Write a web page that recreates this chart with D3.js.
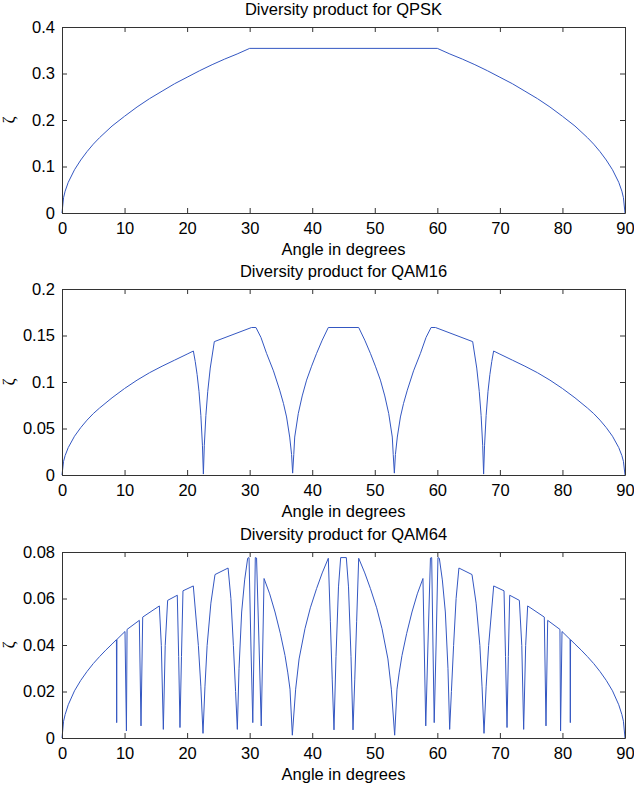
<html>
<head>
    <script src="https://cdnjs.cloudflare.com/ajax/libs/d3/7.8.5/d3.min.js"></script>
    <style>
        body { margin: 0; background: #fff; }
        svg text { font-family: "Liberation Sans", Arial, sans-serif; }
    </style>
</head>
<body>
<script>
    // [angle in degrees, diversity product]
    var qpsk = [[0, 0], [0.25, 0.033], [0.5, 0.047], [1, 0.066], [2, 0.093], [3, 0.114], [4, 0.132], [5, 0.148],
        [6, 0.162], [8, 0.187], [10, 0.208], [12, 0.228], [14, 0.246], [16, 0.262], [18, 0.278], [20, 0.292],
        [22, 0.306], [24, 0.319], [26, 0.331], [28, 0.342], [30, 0.354], [60, 0.354], [62, 0.342], [64, 0.331],
        [66, 0.319], [68, 0.306], [70, 0.292], [72, 0.278], [74, 0.262], [76, 0.246], [78, 0.228], [80, 0.208],
        [82, 0.187], [84, 0.162], [85, 0.148], [86, 0.132], [87, 0.114], [88, 0.093], [89, 0.066], [89.5, 0.047],
        [89.75, 0.033], [90, 0]];

    var qam16 = [[0, 0], [0.25, 0.0147], [0.5, 0.0209], [1, 0.0295], [2, 0.0417], [3, 0.051], [4, 0.059], [5, 0.066],
        [6, 0.072], [8, 0.083], [10, 0.093], [12, 0.102], [14, 0.110], [16, 0.117], [18, 0.1235], [20, 0.130],
        [21.0, 0.1333], [21.3, 0.122], [21.6, 0.108], [21.9, 0.090], [22.2, 0.064], [22.45, 0.032], [22.6, 0.001],
        [22.75, 0.032], [23.0, 0.064], [23.3, 0.090], [23.7, 0.115], [24.35, 0.1434], [30.3, 0.1586], [31.0, 0.1586],
        [31.8, 0.148], [32.7, 0.1308], [33.8, 0.112], [34.8, 0.0912], [35.4, 0.077], [35.9, 0.0624], [36.4, 0.0408],
        [36.7, 0.022], [36.87, 0.002], [37.05, 0.022], [37.2, 0.0408], [37.77, 0.066], [38.4, 0.085], [39.1, 0.102],
        [39.9, 0.117], [40.7, 0.1308], [41.6, 0.145], [42.57, 0.1586], [47.43, 0.1586], [48.4, 0.145], [49.3, 0.1308],
        [50.1, 0.117], [50.9, 0.102], [51.6, 0.085], [52.23, 0.066], [52.8, 0.0408], [52.95, 0.022], [53.13, 0.002],
        [53.3, 0.022], [53.6, 0.0408], [54.1, 0.0624], [54.6, 0.077], [55.2, 0.0912], [56.2, 0.112], [57.3, 0.1308],
        [58.2, 0.148], [59.0, 0.1586], [59.7, 0.1586], [65.65, 0.1434], [66.3, 0.115], [66.7, 0.090], [67.0, 0.064],
        [67.25, 0.032], [67.4, 0.001], [67.55, 0.032], [67.8, 0.064], [68.1, 0.090], [68.4, 0.108], [68.7, 0.122],
        [69.0, 0.1333], [70, 0.130], [72, 0.1235], [74, 0.117], [76, 0.110], [78, 0.102], [80, 0.093], [82, 0.083],
        [84, 0.072], [85, 0.066], [86, 0.059], [87, 0.051], [88, 0.0417], [89, 0.0295], [89.5, 0.0209],
        [89.75, 0.0147], [90, 0]];

    var qam64 = [[0, 0], [0.25, 0.0072], [0.5, 0.0101], [1, 0.0143], [2, 0.0203], [3, 0.0248], [4, 0.0286], [5, 0.032],
        [6, 0.035], [7, 0.0378], [8, 0.0404], [8.7, 0.0423], [8.74, 0.0066], [8.78, 0.0424], [10.07, 0.0458],
        [10.3, 0.003], [10.4, 0.0467], [12.36, 0.0506], [12.63, 0.0052], [12.9, 0.052], [15.56, 0.0568],
        [15.88, 0.0398], [16.2, 0.0037], [16.5, 0.0398], [16.89, 0.0592], [18.43, 0.0614], [18.65, 0.035],
        [18.86, 0.0045], [19.1, 0.035], [19.34, 0.0633], [20.99, 0.0654], [21.8, 0.0398], [22.2, 0.022],
        [22.54, 0.002], [22.85, 0.022], [23.2, 0.0398], [23.8, 0.058], [24.46, 0.0703], [26.55, 0.0731],
        [27.0, 0.060], [27.4, 0.0398], [27.75, 0.020], [28.03, 0.0037], [28.3, 0.030], [28.72, 0.0542],
        [29.2, 0.068], [29.68, 0.0773], [29.9, 0.0776], [30.2, 0.040], [30.5, 0.0066], [30.7, 0.040],
        [30.9, 0.0776], [31.1, 0.0774], [31.5, 0.040], [31.85, 0.0052], [32.3, 0.0686], [33.2, 0.062],
        [34.05, 0.0542], [34.9, 0.045], [35.65, 0.0355], [36.1, 0.028], [36.45, 0.021], [36.82, 0.0012],
        [37.35, 0.021], [37.9, 0.034], [38.84, 0.047], [39.7, 0.056], [40.7, 0.0643], [41.6, 0.071],
        [42.57, 0.0773], [42.9, 0.050], [43.2, 0.025], [43.48, 0.0035], [43.8, 0.035], [44.2, 0.065],
        [44.55, 0.0776], [45.45, 0.0776], [45.8, 0.065], [46.2, 0.035], [46.52, 0.0035], [46.8, 0.025],
        [47.1, 0.050], [47.43, 0.0773], [48.4, 0.071], [49.3, 0.0643], [50.3, 0.056], [51.16, 0.047],
        [52.1, 0.034], [52.65, 0.021], [53.18, 0.0012], [53.55, 0.021], [53.9, 0.028], [54.35, 0.0355],
        [55.1, 0.045], [55.95, 0.0542], [56.8, 0.062], [57.7, 0.0686], [58.15, 0.0052], [58.5, 0.040],
        [58.9, 0.0774], [59.1, 0.0776], [59.3, 0.040], [59.5, 0.0066], [59.8, 0.040], [60.1, 0.0776],
        [60.32, 0.0773], [60.8, 0.068], [61.28, 0.0542], [61.7, 0.030], [61.97, 0.0037], [62.25, 0.020],
        [62.6, 0.0398], [63.0, 0.060], [63.45, 0.0731], [65.54, 0.0703], [66.2, 0.058], [66.8, 0.0398],
        [67.15, 0.022], [67.46, 0.002], [67.8, 0.022], [68.2, 0.0398], [69.01, 0.0654], [70.66, 0.0633],
        [70.9, 0.035], [71.14, 0.0045], [71.35, 0.035], [71.57, 0.0614], [73.11, 0.0592], [73.5, 0.0398],
        [73.8, 0.0037], [74.12, 0.0398], [74.44, 0.0568], [77.1, 0.052], [77.37, 0.0052], [77.64, 0.0506],
        [79.6, 0.0467], [79.7, 0.003], [79.93, 0.0458], [81.22, 0.0424], [81.26, 0.0066], [81.3, 0.0423],
        [82, 0.0404], [83, 0.0378], [84, 0.035], [85, 0.032], [86, 0.0286], [87, 0.0248], [88, 0.0203],
        [89, 0.0143], [89.5, 0.0101], [89.75, 0.0072], [90, 0]];

    var xTicks = [0, 10, 20, 30, 40, 50, 60, 70, 80, 90];
    var qpskTicks = [0, 0.1, 0.2, 0.3, 0.4];
    var qam16Ticks = [0, 0.05, 0.1, 0.15, 0.2];
    var qam64Ticks = [0, 0.02, 0.04, 0.06, 0.08];

    var panels = [
        { title: "Diversity product for QPSK", data: qpsk, ticks: qpskTicks, top: 27 },
        { title: "Diversity product for QAM16", data: qam16, ticks: qam16Ticks, top: 289 },
        { title: "Diversity product for QAM64", data: qam64, ticks: qam64Ticks, top: 552 }
    ];

    var width = 634, height = 788;
    var left = 62, plotW = 563, plotH = 186;
    var fontSize = 16.5;

    var svg = d3.select("body").append("svg")
        .attr("width", width)
        .attr("height", height);

    var x = d3.scaleLinear().domain([0, 90]).range([0, plotW]);

    panels.forEach(function (p) {
        var y = d3.scaleLinear()
            .domain([0, d3.max(p.ticks)])
            .range([plotH, 0]);

        var g = svg.append("g")
            .attr("transform", "translate(" + left + "," + p.top + ")");

        var line = d3.line()
            .x(d => x(d[0]))
            .y(d => y(d[1]));

        g.append("path")
            .datum(p.data)
            .attr("fill", "none")
            .attr("stroke", "#3457c2")
            .attr("stroke-width", 1)
            .attr("stroke-linejoin", "round")
            .attr("d", line);

        var fmt = d3.format("~g");

        // box with inward ticks on all four sides
        var bottom = g.append("g").attr("transform", "translate(0," + plotH + ")")
            .call(d3.axisBottom(x).tickValues(xTicks).tickSize(-5).tickSizeOuter(0).tickPadding(9));
        var topAx = g.append("g")
            .call(d3.axisTop(x).tickValues(xTicks).tickSize(-5).tickSizeOuter(0).tickFormat(""));
        var leftAx = g.append("g")
            .call(d3.axisLeft(y).tickValues(p.ticks).tickSize(-5).tickSizeOuter(0).tickPadding(7).tickFormat(fmt));
        var rightAx = g.append("g").attr("transform", "translate(" + plotW + ",0)")
            .call(d3.axisRight(y).tickValues(p.ticks).tickSize(-5).tickSizeOuter(0).tickFormat(""));

        [bottom, topAx, leftAx, rightAx].forEach(function (a) {
            a.select(".domain").attr("stroke", "#333");
            a.selectAll(".tick line").attr("stroke", "#333");
            a.selectAll("text")
                .attr("fill", "#000")
                .style("font-size", fontSize + "px")
                .style("font-family", "'Liberation Sans', Arial, sans-serif");
        });

        g.append("text")
            .attr("x", plotW / 2)
            .attr("y", -12)
            .attr("text-anchor", "middle")
            .style("font-size", fontSize + "px")
            .text(p.title);

        g.append("text")
            .attr("x", plotW / 2)
            .attr("y", plotH + 42)
            .attr("text-anchor", "middle")
            .style("font-size", fontSize + "px")
            .text("Angle in degrees");

        g.append("text")
            .attr("transform", "translate(" + (14 - left) + "," + (plotH / 2) + ") rotate(-90)")
            .attr("text-anchor", "middle")
            .style("font-size", "17px")
            .style("font-family", "'Liberation Serif', serif")
            .text("ζ");
    });
</script>
</body>
</html>
